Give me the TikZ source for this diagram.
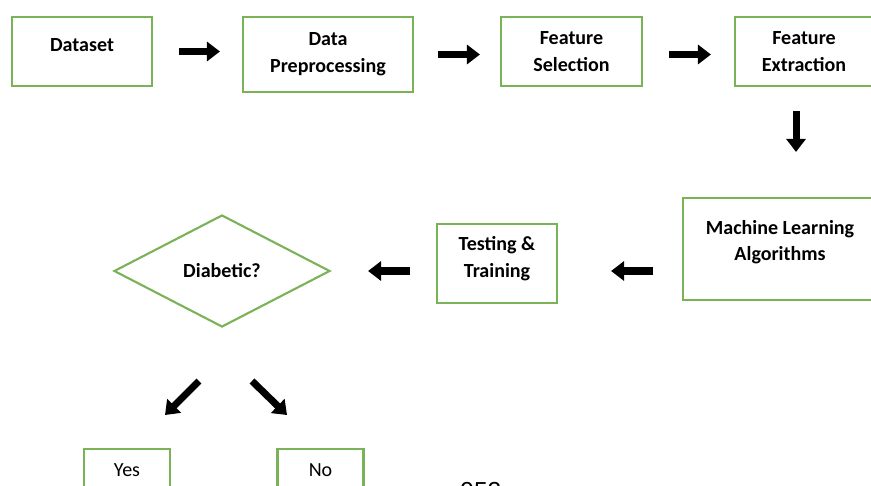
\documentclass[tikz,border=0pt]{standalone}
\usepackage{fontspec}
\setmainfont{Carlito}
\newfontfamily\pagefont{Liberation Sans}
\usetikzlibrary{shapes.geometric, arrows.meta}
\definecolor{boxgreen}{RGB}{122,178,88}

\tikzset{
  stage/.style={draw=boxgreen, line width=1.2pt, align=center, inner sep=0pt,
    font=\bfseries\fontsize{11.4}{15.2}\selectfont},
  outcome/.style={draw=boxgreen, line width=1.2pt, inner sep=0pt, anchor=north,
    minimum width=1.72cm, text height=0.54cm, text depth=0.76cm,
    font=\fontsize{11.4}{15.2}\selectfont},
  bigarrow/.style={line width=4pt, -{Triangle[length=0.26cm, width=0.38cm]}}
}

\begin{document}
\begin{tikzpicture}
    \useasboundingbox (0,0) rectangle (17.42,-9.7);

    % Draw the top row of stages
    \node[stage, minimum width=2.8cm, text height=0.68cm, text depth=0.7cm] (Dataset) at (1.64,-1.03) {Dataset};
    \node[stage, minimum width=3.4cm, minimum height=1.5cm] (Preproc) at (6.56,-1.09) {Data\\Preprocessing};
    \node[stage, minimum width=2.82cm, minimum height=1.38cm] (Selection) at (11.43,-1.03) {Feature\\Selection};
    \node[stage, minimum width=2.76cm, minimum height=1.38cm] (Extraction) at (16.08,-1.03) {Feature\\Extraction};

    % Draw the middle row
    \node[stage, minimum width=3.88cm, minimum height=2.04cm, text depth=0.34cm] (Learning) at (15.6,-4.98) {Machine Learning\\Algorithms};
    \node[stage, minimum width=2.4cm, minimum height=1.58cm, text depth=0.26cm] (Training) at (9.94,-5.27) {Testing \&\\Training};
    \node[diamond, draw=boxgreen, line width=1.2pt, inner sep=0pt, minimum width=4.32cm, minimum height=2.24cm,
      font=\bfseries\fontsize{11.4}{15.2}\selectfont] (Diabetic) at (4.44,-5.42) {Diabetic?};

    % Outcomes
    \node[outcome] (Yes) at (2.54,-8.96) {Yes};
    \node[outcome] (No) at (6.41,-8.96) {No};

    % Connect the stages
    \draw[bigarrow, shorten <=0.52cm, shorten >=0.44cm] (Dataset.east) -- (Dataset.east -| Preproc.west);
    \draw[bigarrow, shorten <=0.48cm, shorten >=0.4cm] (Preproc.east) -- (Selection.west |- Preproc.east);
    \draw[bigarrow, shorten <=0.52cm, shorten >=0.46cm] (Selection.east |- Preproc.east) -- (Extraction.west |- Preproc.east);
    \draw[bigarrow, shorten <=0.48cm, shorten >=0.9cm] ([xshift=-1.6mm]Extraction.south) -- ([xshift=-1.6mm]Extraction.south |- Learning.north);
    \draw[bigarrow, shorten <=0.58cm, shorten >=1.06cm] (Learning.west |- Diabetic.east) -- (Training.east |- Diabetic.east);
    \draw[bigarrow, shorten <=0.52cm, shorten >=0.74cm] (Training.west |- Diabetic.east) -- (Diabetic.east);

    % Optional: the two answers
    \coordinate (YesFrom) at (3.98,-7.62);
    \coordinate (YesTo) at (3.3,-8.3);
    \coordinate (NoFrom) at (5.04,-7.62);
    \coordinate (NoTo) at (5.74,-8.3);
    \draw[bigarrow] (YesFrom) -- (YesTo);
    \draw[bigarrow] (NoFrom) -- (NoTo);

    % Page number, cut by the page edge
    \node[anchor=north west, inner sep=0pt, font=\pagefont\fontsize{14}{14}\selectfont] (PageNo) at (9.2,-9.64) {952};
\end{tikzpicture}
\end{document}
